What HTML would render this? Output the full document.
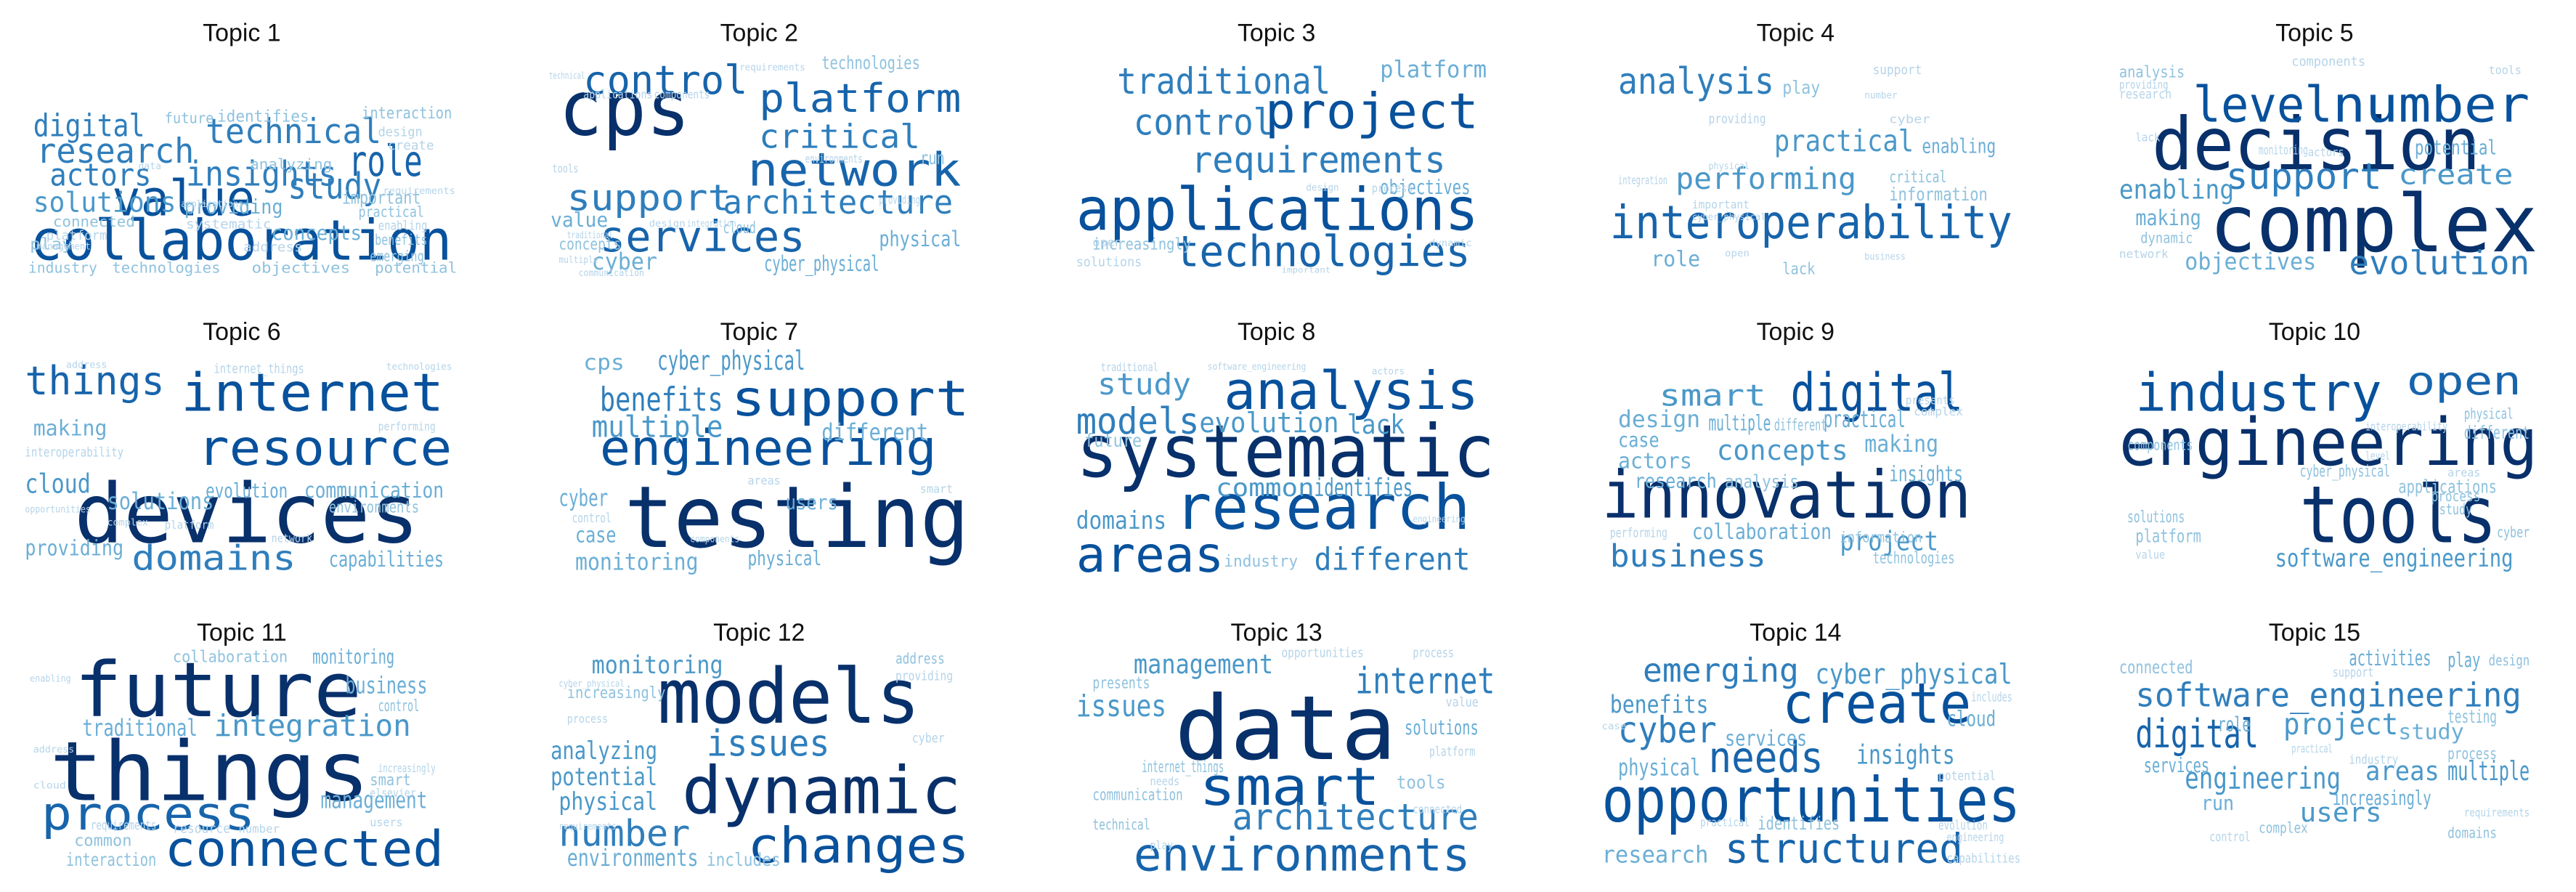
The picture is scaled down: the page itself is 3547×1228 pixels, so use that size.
<!DOCTYPE html>
<html><head><meta charset="utf-8"><style>
html,body{margin:0;padding:0;background:#fff;}
svg{display:block;}
.t{font-family:"Liberation Sans",sans-serif;fill:#111;}
.w{font-family:"DejaVu Sans Mono","Liberation Mono",monospace;}
</style></head><body>
<svg id="chart" xmlns="http://www.w3.org/2000/svg" width="3547" height="1228" viewBox="0 0 1568 543"></svg>
<script>
// each entry: [word, left x, baseline y, font size, width]
const topic1 = [["collaboration",18,158,34,257],["value",68,131,30,87],["study",175,121,22,57],["role",212,107,26,45],["technical",125,87,21,107],["research",22,99,21,96],["digital",20,83,19,68],["insights",113,113,21,92],["actors",30,113,19,62],["solutions",20,129,17,87],["providing",112,130,12,60],["concepts",165,146,12,55],["important",208,124,11,48],["practical",218,132,9,40],["benefits",228,149,9,32],["enabling",230,140,8,30],["emerging",225,159,9,33],["identifies",132,74,10,56],["interaction",220,72,10,55],["future",100,75,9,30],["design",230,83,8,27],["create",236,91,8,28],["analyzing",152,103,9,50],["connected",32,138,9,50],["platform",28,146,8,37],["play",18,152,10,26],["industry",17,166,9,42],["technologies",68,166,9,66],["objectives",153,166,9,60],["potential",228,166,9,50],["systematic",113,139,8,52],["address",148,153,8,36],["management",22,152,6,33],["requirements",233,118,6,44],["applications",110,126,6,38],["data",84,103,6,14]];
const topic2 = [["cps",340,82,46,80],["control",355,57,24,100],["platform",462,68,24,123],["critical",462,90,20,98],["network",455,113,28,130],["support",345,128,22,100],["architecture",440,130,20,140],["services",365,153,26,125],["physical",535,150,13,50],["cyber",360,164,14,40],["cyber_physical",465,165,13,70],["value",335,138,12,35],["concepts",340,152,10,38],["technologies",500,42,11,60],["run",560,100,11,15],["environments",490,99,7,35],["tools",336,105,7,16],["applications",355,60,7,42],["components",398,60,7,34],["cloud",440,142,10,20],["requirements",450,43,6,40],["providing",535,124,7,25],["design",395,138,6,22],["integration",418,138,6,30],["multiple",340,160,6,24],["traditional",345,145,6,28],["communication",352,168,6,40],["technical",334,48,6,22]];
const topic3 = [["applications",655,140,36,245],["project",770,78,30,130],["technologies",715,162,26,180],["traditional",680,57,22,130],["requirements",725,105,22,155],["control",690,82,22,85],["platform",840,47,14,65],["objectives",840,118,12,55],["increasingly",665,152,10,60],["solutions",655,162,8,40],["open",665,150,7,18],["process",835,117,7,25],["design",795,116,6,20],["dynamic",870,150,6,26],["important",780,166,5,30]];
const topic4 = [["interoperability",980,145,28,245],["analysis",985,57,22,95],["practical",1080,92,18,85],["performing",1020,115,18,110],["role",1005,162,13,30],["play",1085,57,11,23],["providing",1040,75,8,35],["enabling",1170,93,12,45],["critical",1150,111,10,35],["information",1150,122,11,60],["lack",1085,167,10,20],["support",1140,45,8,30],["integration",985,112,7,30],["cyber",1150,75,7,25],["number",1135,60,6,20],["important",1030,127,7,35],["cyber_physical",1030,134,6,45],["physical",1040,103,6,25],["open",1050,156,6,15],["business",1135,158,6,25]];
const topic5 = [["decision",1310,103,44,200],["complex",1345,153,48,200],["level",1335,74,30,85],["number",1420,74,30,120],["support",1355,115,22,95],["evolution",1430,167,20,110],["create",1460,112,17,70],["enabling",1290,121,16,70],["making",1300,137,13,40],["objectives",1330,164,14,80],["potential",1470,94,12,50],["analysis",1290,47,10,40],["dynamic",1303,148,9,32],["monitoring",1375,94,8,30],["components",1395,40,8,45],["tools",1515,45,7,20],["research",1290,60,8,32],["providing",1290,54,7,30],["network",1290,157,7,30],["lack",1300,86,7,15],["actors",1405,95,7,22]];
const topic6 = [["devices",45,330,50,210],["internet",110,250,32,160],["resource",120,283,30,155],["things",15,240,24,85],["domains",80,347,21,100],["cloud",15,300,16,40],["making",20,265,13,45],["solutions",65,310,14,65],["evolution",125,303,12,50],["communication",185,303,13,85],["providing",15,338,13,60],["capabilities",200,345,13,70],["environments",200,312,10,55],["interoperability",15,278,8,60],["internet_things",130,227,8,55],["network",165,330,7,25],["platform",100,322,7,30],["opportunities",15,312,6,40],["complex",65,320,6,25],["performing",230,262,7,35],["address",40,224,6,25],["technologies",235,225,6,40]];
const topic7 = [["testing",380,333,52,210],["support",445,253,30,145],["engineering",365,283,30,205],["benefits",365,250,20,75],["cps",355,225,13,25],["cyber_physical",400,225,16,90],["multiple",360,266,18,80],["different",500,268,14,65],["users",478,310,12,32],["cyber",340,308,14,30],["case",350,330,13,25],["monitoring",350,347,14,75],["physical",455,344,12,45],["control",348,318,8,24],["areas",455,295,7,20],["smart",560,300,7,20],["components",420,330,6,30]];
const topic8 = [["systematic",655,290,44,255],["analysis",745,249,32,155],["research",715,322,38,180],["areas",655,348,30,90],["models",655,264,22,75],["study",668,240,18,57],["evolution",730,263,17,85],["lack",820,264,16,35],["common",740,302,15,60],["identifies",800,302,15,60],["domains",655,322,15,55],["different",800,347,19,95],["industry",745,345,10,45],["future",660,272,11,35],["traditional",670,226,7,35],["software_engineering",735,225,6,60],["actors",835,228,6,20],["engineering",860,318,6,32]];
const topic9 = [["innovation",975,315,40,225],["digital",1090,250,32,105],["smart",1010,247,18,65],["design",985,260,14,50],["multiple",1040,262,13,38],["different",1080,262,10,32],["practical",1110,260,14,50],["concepts",1045,280,17,80],["making",1135,275,14,45],["case",985,272,12,25],["actors",985,285,13,45],["research",995,297,12,50],["analysis",1050,297,11,45],["insights",1150,293,13,45],["project",1120,335,16,60],["collaboration",1030,328,13,85],["business",980,345,19,95],["information",1120,330,9,50],["technologies",1140,343,10,50],["performing",980,327,8,35],["presents",1160,246,7,30],["complex",1165,253,7,30]];
const topic10 = [["engineering",1290,283,40,255],["tools",1400,330,48,120],["industry",1300,250,32,150],["open",1465,240,24,70],["software_engineering",1385,345,15,145],["applications",1460,300,11,60],["components",1295,274,9,40],["solutions",1295,318,10,35],["platform",1300,330,11,40],["cyber_physical",1400,290,10,55],["different",1500,267,11,40],["physical",1500,255,9,30],["study",1485,313,9,20],["process",1480,305,9,30],["cyber",1520,327,9,20],["interoperability",1440,262,7,50],["level",1440,280,7,15],["areas",1490,290,7,20],["value",1300,340,7,18]];
const topic11 = [["things",30,487,50,195],["future",45,436,46,175],["connected",100,527,30,170],["process",25,505,28,130],["integration",130,448,18,120],["traditional",50,448,14,70],["business",210,422,14,50],["collaboration",105,403,10,70],["monitoring",190,404,12,50],["control",230,433,10,25],["management",195,492,14,65],["smart",225,478,10,25],["common",45,515,10,35],["interaction",40,527,11,55],["requirements",55,505,8,40],["resource",105,507,8,35],["number",145,507,7,25],["users",225,503,7,20],["elsevier",225,485,7,28],["increasingly",230,470,7,35],["enabling",18,415,6,25],["address",20,458,6,25],["cloud",20,480,6,20]];
const topic12 = [["models",400,440,46,160],["dynamic",415,495,40,170],["changes",455,525,30,135],["issues",430,460,22,75],["number",340,515,22,80],["potential",335,478,15,65],["physical",340,493,15,60],["analyzing",335,462,15,65],["monitoring",360,410,15,80],["environments",345,527,14,80],["includes",430,527,11,45],["increasingly",345,425,10,60],["address",545,404,9,30],["providing",545,414,8,35],["cyber",555,452,8,20],["cyber_physical",340,418,6,40],["process",345,440,7,25],["requirements",340,505,6,35]];
const topic13 = [["data",715,462,54,135],["smart",730,490,32,110],["environments",690,530,28,205],["architecture",750,505,22,150],["internet",825,422,22,85],["management",690,410,16,85],["issues",655,436,18,55],["solutions",855,447,12,45],["tools",850,480,11,30],["communication",665,487,10,55],["internet_things",695,470,10,50],["opportunities",780,400,8,50],["process",860,400,8,25],["presents",665,419,10,35],["technical",665,505,9,35],["value",880,430,8,20],["platform",870,460,8,28],["connected",860,495,7,30],["needs",700,478,7,18],["play",700,517,7,14]];
const topic14 = [["opportunities",975,500,38,255],["create",1085,440,34,115],["needs",1040,470,26,70],["structured",1050,525,25,145],["cyber",985,452,22,60],["emerging",1000,415,20,95],["cyber_physical",1105,416,17,120],["benefits",980,434,15,60],["services",1050,454,13,50],["insights",1130,465,16,60],["cloud",1185,442,13,30],["physical",985,472,14,50],["research",975,525,14,65],["identifies",1070,505,11,50],["evolution",1180,505,8,30],["engineering",1185,512,7,35],["capabilities",1185,525,8,45],["includes",1200,427,8,25],["potential",1180,475,8,35],["practical",1035,503,7,30],["case",975,444,6,15]];
const topic15 = [["software_engineering",1300,430,20,235],["digital",1300,455,24,75],["project",1390,447,18,70],["engineering",1330,480,18,95],["areas",1440,475,16,45],["multiple",1490,475,16,50],["services",1305,470,12,40],["users",1400,500,16,50],["role",1350,445,12,20],["study",1460,450,13,40],["testing",1490,440,11,30],["activities",1430,405,13,50],["play",1490,406,12,20],["design",1515,405,9,25],["connected",1290,410,11,45],["increasingly",1420,490,12,60],["run",1340,493,12,20],["complex",1375,507,9,30],["control",1345,512,8,25],["process",1490,462,10,30],["domains",1490,510,9,30],["industry",1430,465,8,30],["support",1420,412,8,25],["practical",1395,458,7,25],["requirements",1500,497,7,40]];
const titles = ["Topic 1","Topic 2","Topic 3","Topic 4","Topic 5","Topic 6","Topic 7","Topic 8","Topic 9","Topic 10","Topic 11","Topic 12","Topic 13","Topic 14","Topic 15"];
const topics = [topic1,topic2,topic3,topic4,topic5,topic6,topic7,topic8,topic9,topic10,topic11,topic12,topic13,topic14,topic15];

const NS = "http://www.w3.org/2000/svg";
const svg = document.getElementById("chart");
const colX = [147,462,777,1093,1409];
const rowY = [25,207,390];
function colorFor(s){
  if(s>=40) return "#08306b";
  if(s>=30) return "#08519c";
  if(s>=24) return "#1764ab";
  if(s>=19) return "#2f7ebc";
  if(s>=15) return "#4a98c9";
  if(s>=12) return "#6aaed6";
  if(s>=9) return "#8fc2de";
  return "#b5d4e9";
}
topics.forEach((words,i)=>{
  const g = document.createElementNS(NS,"g");
  
  
  const t = document.createElementNS(NS,"text");
  
  
  t.setAttribute("class","t");
  t.setAttribute("x",colX[i%5]);
  t.setAttribute("y",rowY[Math.floor(i/5)]);
  t.setAttribute("text-anchor","middle");
  t.setAttribute("font-size","15");
  t.textContent = titles[i];
  g.appendChild(t);
  words.forEach(w=>{
    const e = document.createElementNS(NS,"text");
    
    
    e.setAttribute("class","w");
    e.setAttribute("x",w[1]);
    e.setAttribute("y",w[2]);
    e.setAttribute("font-size",w[3]);
    e.setAttribute("textLength",w[4]);
    e.setAttribute("lengthAdjust","spacingAndGlyphs");
    e.setAttribute("fill",colorFor(w[3]));
    e.textContent = w[0];
    g.appendChild(e);
  });
  svg.appendChild(g);
});
</script>
</body></html>
